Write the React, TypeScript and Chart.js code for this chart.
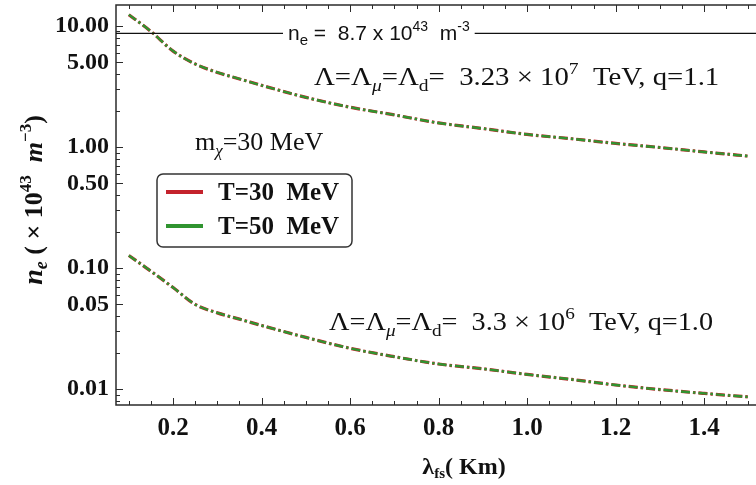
import React, { useEffect, useRef } from "react";
import { Chart, registerables } from "chart.js";

Chart.register(...registerables);

// ---- data ----
const lambdaKm = [0.1, 0.15, 0.2, 0.25, 0.3, 0.35, 0.4, 0.5, 0.6, 0.7, 0.8, 0.9, 1.0, 1.1, 1.2, 1.3, 1.4, 1.5];
const upperT30 = [12.4, 9.0, 6.2, 4.85, 4.13, 3.65, 3.23, 2.57, 2.13, 1.84, 1.58, 1.42, 1.27, 1.17, 1.07, 0.99, 0.91, 0.84];
const upperT50 = [12.4, 9.0, 6.2, 4.85, 4.13, 3.65, 3.23, 2.57, 2.13, 1.84, 1.58, 1.42, 1.27, 1.17, 1.07, 0.99, 0.91, 0.84];
const lowerT30 = [0.127, 0.094, 0.069, 0.05, 0.0426, 0.0378, 0.0335, 0.0267, 0.0217, 0.0185, 0.0161, 0.0147, 0.0132, 0.012, 0.0108, 0.0099, 0.0092, 0.0086];
const lowerT50 = [0.127, 0.094, 0.069, 0.05, 0.0426, 0.0378, 0.0335, 0.0267, 0.0217, 0.0185, 0.0161, 0.0147, 0.0132, 0.012, 0.0108, 0.0099, 0.0092, 0.0086];
const seriesLabels = ["T=30  MeV", "T=50  MeV"];
const yTickLabels = [0.01, 0.05, 0.1, 0.5, 1, 5, 10];
const yMinorTicks = [0.008, 0.009, 0.02, 0.03, 0.04, 0.06, 0.07, 0.08, 0.09, 0.2, 0.3, 0.4, 0.6, 0.7, 0.8, 0.9, 2, 3, 4, 6, 7, 8, 9];
const xTickLabels = [0.2, 0.4, 0.6, 0.8, 1.0, 1.2, 1.4];
const xMinorTicks = [0.1, 0.15, 0.25, 0.3, 0.35, 0.45, 0.5, 0.55, 0.65, 0.7, 0.75, 0.85, 0.9, 0.95, 1.05, 1.1, 1.15, 1.25, 1.3, 1.35, 1.45, 1.5];
const thresholdNe = 8.7;

// ---- styles ----
const RED = "rgb(196,34,44)";
const GREEN = "rgb(48,148,48)";
const FRAME = "#2b2b2b";
const SERIF = "'Liberation Serif', 'Times New Roman', serif";
const SANS = "'Liberation Sans', Arial, sans-serif";
const DASH = [9, 3, 2.5, 3];

type Run = { t: string; font: string; dy?: number };

function runsWidth(ctx: CanvasRenderingContext2D, runs: Run[]) {
  let w = 0;
  for (const r of runs) {
    ctx.font = r.font;
    w += ctx.measureText(r.t).width;
  }
  return w;
}

function drawRuns(
  ctx: CanvasRenderingContext2D,
  runs: Run[],
  x: number,
  y: number,
  align: "left" | "center" = "left",
  sx = 1
) {
  const w = runsWidth(ctx, runs) * sx;
  const x0 = align === "center" ? x - w / 2 : x;
  ctx.save();
  ctx.translate(x0, y);
  ctx.scale(sx, 1);
  let cx = 0;
  for (const r of runs) {
    ctx.font = r.font;
    ctx.fillText(r.t, cx, r.dy || 0);
    cx += ctx.measureText(r.t).width;
  }
  ctx.restore();
  return w;
}

const serif = (size: number, style = "") => `${style} ${size}px ${SERIF}`.trim();
const sans = (size: number) => `${size}px ${SANS}`;

const overlay = {
  id: "overlay",
  afterDraw(chart: any) {
    const { ctx, chartArea: a, scales } = chart;
    const x = scales.x;
    const y = scales.y;
    ctx.save();
    ctx.textAlign = "left";
    ctx.textBaseline = "alphabetic";
    ctx.fillStyle = "#111";

    // frame
    ctx.strokeStyle = FRAME;
    ctx.lineWidth = 1.5;
    ctx.beginPath();
    ctx.moveTo(a.right + 2, a.top);
    ctx.lineTo(a.left, a.top);
    ctx.lineTo(a.left, a.bottom);
    ctx.lineTo(a.right + 2, a.bottom);
    ctx.stroke();

    // inward ticks
    ctx.lineWidth = 1;
    ctx.beginPath();
    const xt = (v: number, len: number) => {
      const px = Math.round(x.getPixelForValue(v)) + 0.5;
      ctx.moveTo(px, a.bottom);
      ctx.lineTo(px, a.bottom - len);
      ctx.moveTo(px, a.top);
      ctx.lineTo(px, a.top + len);
    };
    const yt = (v: number, len: number) => {
      const py = Math.round(y.getPixelForValue(v)) + 0.5;
      ctx.moveTo(a.left, py);
      ctx.lineTo(a.left + len, py);
    };
    xTickLabels.forEach((v) => xt(v, 7));
    xMinorTicks.forEach((v) => xt(v, 4));
    yTickLabels.forEach((v) => yt(v, 7));
    yMinorTicks.forEach((v) => yt(v, 4));
    ctx.stroke();

    // threshold line with label
    const ty = y.getPixelForValue(thresholdNe);
    const labelRuns: Run[] = [
      { t: "n", font: sans(21) },
      { t: "e", font: sans(15), dy: 5 },
      { t: " =  8.7 x 10", font: sans(21) },
      { t: "43", font: sans(14), dy: -9 },
      { t: "  m", font: sans(21) },
      { t: "-3", font: sans(14), dy: -9 },
    ];
    const tx = 288;
    const lw = runsWidth(ctx, labelRuns);
    ctx.strokeStyle = "#111";
    ctx.lineWidth = 1.2;
    ctx.beginPath();
    ctx.moveTo(a.left, ty);
    ctx.lineTo(tx - 5, ty);
    ctx.moveTo(tx + lw + 5, ty);
    ctx.lineTo(a.right, ty);
    ctx.stroke();
    drawRuns(ctx, labelRuns, tx, ty + 7);

    // annotations
    const f = serif(25);
    const fs = serif(17);
    drawRuns(ctx, [
      { t: "Λ=Λ", font: f },
      { t: "μ", font: serif(17, "italic"), dy: 6 },
      { t: "=Λ", font: f },
      { t: "d", font: fs, dy: 6 },
      { t: "=  3.23 × 10", font: f },
      { t: "7", font: fs, dy: -11 },
      { t: "  TeV, q=1.1", font: f },
    ], 314, 85, "left", 1.15);
    drawRuns(ctx, [
      { t: "m", font: serif(26) },
      { t: "χ", font: serif(17, "italic"), dy: 6 },
      { t: "=30 MeV", font: serif(26) },
    ], 195, 150);
    drawRuns(ctx, [
      { t: "Λ=Λ", font: f },
      { t: "μ", font: serif(17, "italic"), dy: 6 },
      { t: "=Λ", font: f },
      { t: "d", font: fs, dy: 6 },
      { t: "=  3.3 × 10", font: f },
      { t: "6", font: fs, dy: -11 },
      { t: "  TeV, q=1.0", font: f },
    ], 329, 330, "left", 1.13);

    // legend
    const bx = 157, by = 174, bw = 195, bh = 73;
    ctx.fillStyle = "#fff";
    ctx.strokeStyle = "#333";
    ctx.lineWidth = 1.5;
    ctx.beginPath();
    (ctx as any).roundRect(bx, by, bw, bh, 6);
    ctx.fill();
    ctx.stroke();
    const colors = [RED, GREEN];
    const rows = [192, 226];
    seriesLabels.forEach((lab, i) => {
      ctx.strokeStyle = colors[i];
      ctx.lineWidth = 4;
      ctx.beginPath();
      ctx.moveTo(166, rows[i]);
      ctx.lineTo(203, rows[i]);
      ctx.stroke();
      ctx.fillStyle = "#111";
      ctx.font = serif(25, "bold");
      ctx.fillText(lab, 218, rows[i] + 8);
    });

    // y axis title (rotated)
    ctx.save();
    ctx.translate(42, 200);
    ctx.rotate(-Math.PI / 2);
    ctx.fillStyle = "#111";
    drawRuns(ctx, [
      { t: "n", font: serif(28, "italic bold") },
      { t: "e", font: serif(18, "italic bold"), dy: 5 },
      { t: " ( × 10", font: serif(26, "bold") },
      { t: "43", font: serif(17, "bold"), dy: -11 },
      { t: "  m", font: serif(26, "italic bold") },
      { t: "−3", font: serif(17, "bold"), dy: -11 },
      { t: ")", font: serif(26, "bold") },
    ], 0, 0, "center");
    ctx.restore();

    // x axis title
    drawRuns(ctx, [
      { t: "λ", font: serif(24, "bold") },
      { t: "fs", font: serif(15, "bold"), dy: 4 },
      { t: "( Km)", font: serif(24, "bold") },
    ], 464, 474, "center");

    ctx.restore();
  },
};

export default function App() {
  const ref = useRef<HTMLCanvasElement | null>(null);

  useEffect(() => {
    const canvas = ref.current;
    if (!canvas) return;
    const line = (data: number[], color: string, width: number, order: number) => ({
      data: lambdaKm.map((l, i) => ({ x: l, y: data[i] })),
      borderColor: color,
      backgroundColor: color,
      borderWidth: width,
      borderDash: DASH,
      pointRadius: 0,
      order,
      cubicInterpolationMode: "monotone" as const,
      fill: false,
    });
    const chart = new Chart(canvas, {
      type: "line",
      data: {
        datasets: [
          { label: seriesLabels[0], ...line(upperT30, RED, 3.2, 2) },
          { label: seriesLabels[1], ...line(upperT50, GREEN, 2.4, 1) },
          { label: seriesLabels[0], ...line(lowerT30, RED, 3.2, 2) },
          { label: seriesLabels[1], ...line(lowerT50, GREEN, 2.4, 1) },
        ],
      },
      options: {
        animation: false,
        responsive: false,
        layout: { padding: { left: 0, top: 5, right: 0, bottom: 0 } },
        plugins: { legend: { display: false }, tooltip: { enabled: false } },
        scales: {
          x: {
            type: "linear",
            min: 0.071,
            max: 1.517,
            bounds: "data",
            grid: { display: false, drawTicks: false },
            border: { display: false },
            afterBuildTicks: (s: any) => {
              s.ticks = xTickLabels.map((v) => ({ value: v }));
            },
            afterFit: (s: any) => {
              s.height = 80;
              s.paddingLeft = 0;
              s.paddingRight = 0;
            },
            ticks: {
              autoSkip: false,
              maxRotation: 0,
              padding: 9,
              color: "#111",
              font: { family: SERIF, weight: "bold", size: 25 },
              callback: (v: any) => Number(v).toFixed(1),
            },
          },
          y: {
            type: "logarithmic",
            min: 0.00738,
            max: 14.9,
            bounds: "data",
            grid: { display: false, drawTicks: false },
            border: { display: false },
            afterBuildTicks: (s: any) => {
              s.ticks = yTickLabels.map((v) => ({ value: v }));
            },
            afterFit: (s: any) => {
              s.width = 116;
              s.paddingTop = 0;
              s.paddingBottom = 0;
            },
            ticks: {
              autoSkip: false,
              padding: 7,
              color: "#111",
              font: { family: SERIF, weight: "bold", size: 24 },
              callback: (v: any) => Number(v).toFixed(2),
            },
          },
        },
      },
      plugins: [overlay],
    });
    return () => chart.destroy();
  }, []);

  return (
    <div style={{ position: "fixed", left: 0, top: 0, width: 756, height: 485, background: "#fff" }}>
      <canvas ref={ref} width={756} height={485} style={{ width: 756, height: 485, display: "block" }} />
    </div>
  );
}
